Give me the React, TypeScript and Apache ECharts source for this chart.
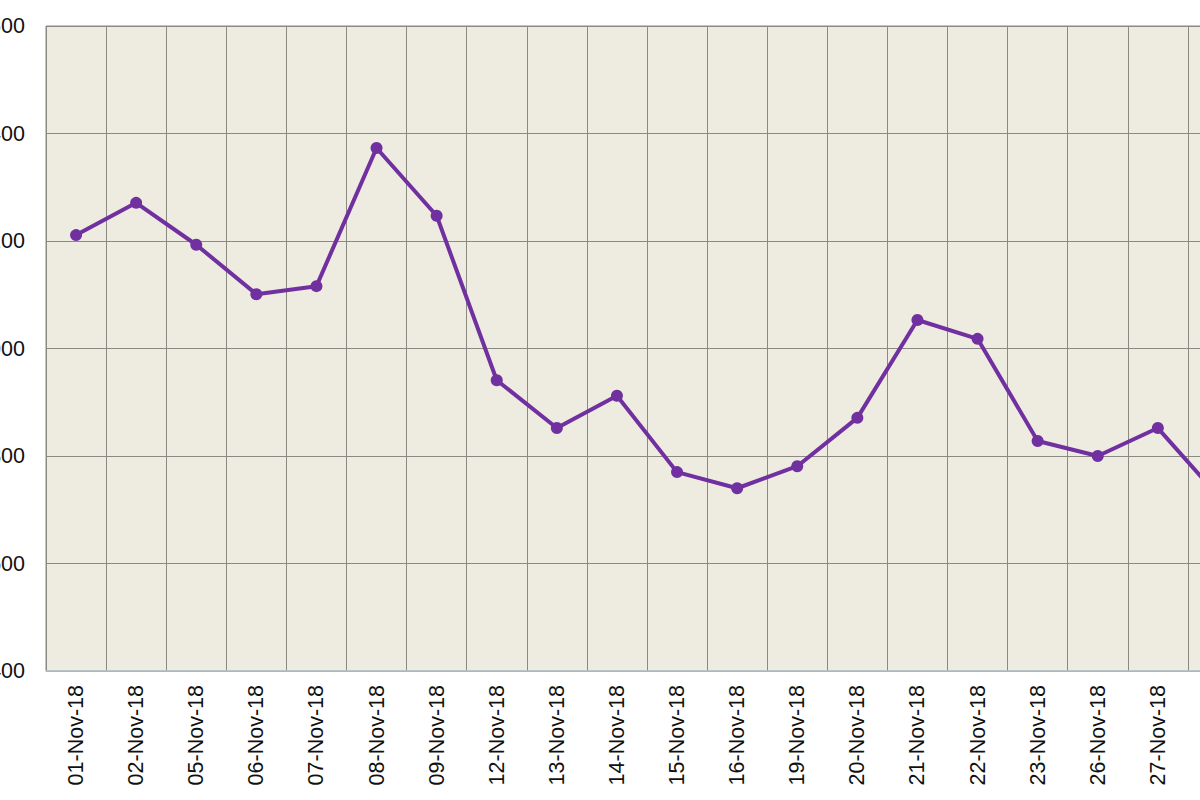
import React, { useEffect, useRef } from 'react';
import * as echarts from 'echarts';

const dates = [
  '01-Nov-18', '02-Nov-18', '05-Nov-18', '06-Nov-18', '07-Nov-18', '08-Nov-18',
  '09-Nov-18', '12-Nov-18', '13-Nov-18', '14-Nov-18', '15-Nov-18', '16-Nov-18',
  '19-Nov-18', '20-Nov-18', '21-Nov-18', '22-Nov-18', '23-Nov-18', '26-Nov-18',
  '27-Nov-18', '28-Nov-18'
];

const values = [
  1211, 1271, 1193, 1101, 1116, 1373, 1247, 941, 852, 912,
  770, 740, 781, 871, 1053, 1018, 828, 800, 852, 726
];

const yMin = 400;
const yMax = 1600;
const yStep = 200;

const App = () => {
  const chartRef = useRef<HTMLDivElement>(null);

  useEffect(() => {
    if (!chartRef.current) return;
    const chart = echarts.init(chartRef.current, null, { renderer: 'svg' });

    chart.setOption({
      animation: false,
      backgroundColor: '#ffffff',
      textStyle: { fontFamily: 'Liberation Sans, Arial, sans-serif' },
      grid: {
        left: 46,
        top: 26,
        width: 1202,
        height: 645,
        containLabel: false,
        outerBoundsMode: 'none',
        show: true,
        backgroundColor: '#eeebe1',
        borderColor: '#8a8a82',
        borderWidth: 1
      },
      xAxis: {
        type: 'category',
        data: dates,
        boundaryGap: true,
        axisLine: { show: true, lineStyle: { color: '#b8c6d2', width: 1.5 } },
        axisTick: { show: false },
        axisLabel: {
          rotate: 90,
          margin: 14,
          fontSize: 21.5,
          color: '#111111',
          interval: 0
        },
        splitLine: { show: true, interval: 0, lineStyle: { color: '#8a8a82', width: 1 } }
      },
      yAxis: {
        type: 'value',
        min: yMin,
        max: yMax,
        interval: yStep,
        axisLine: { show: false },
        axisTick: { show: false },
        axisLabel: {
          margin: 21,
          fontSize: 21.5,
          color: '#111111',
          formatter: (v: number) => v.toLocaleString('en-US')
        },
        splitLine: { show: true, lineStyle: { color: '#8a8a82', width: 1 } }
      },
      series: [
        {
          type: 'line',
          data: values,
          symbol: 'circle',
          symbolSize: 12,
          lineStyle: { color: '#7030a0', width: 4 },
          itemStyle: { color: '#7030a0' }
        }
      ]
    });

    return () => chart.dispose();
  }, []);

  return (
    <div style={{ position: 'fixed', left: 0, top: 0, width: 1200, height: 800, overflow: 'hidden', background: '#fff' }}>
      <div ref={chartRef} style={{ width: 1300, height: 800 }} />
    </div>
  );
};

export default App;
